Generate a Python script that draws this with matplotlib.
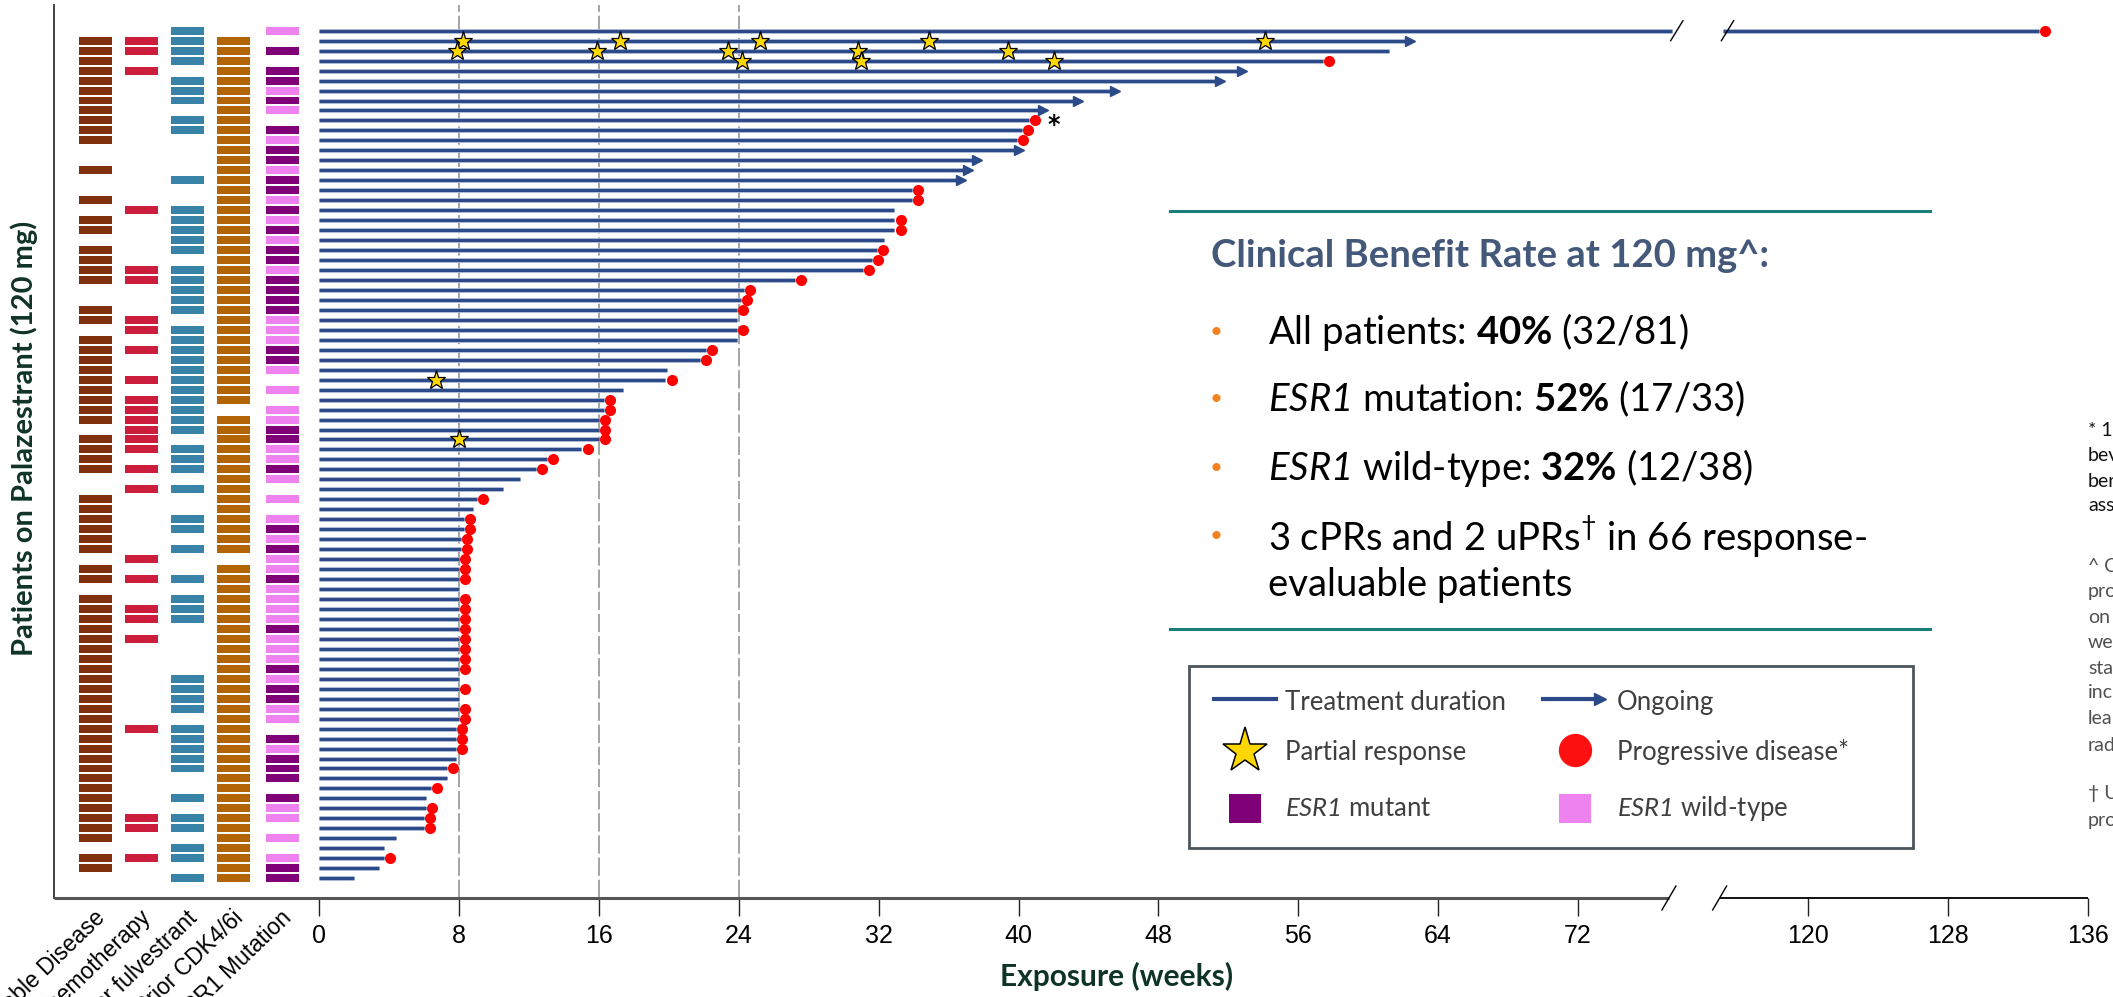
import numpy as np
import matplotlib
matplotlib.use('Agg')
import matplotlib.pyplot as plt
from matplotlib.collections import LineCollection

# Swimmer plot: one row per patient, top to bottom (weeks on palazestrant)
duration = [133.2, 62.4, 61.2, 57.4, 52.8, 51.5, 45.5, 43.4, 41.4, 40.6,
            40.2, 39.9, 40.0, 37.6, 37.1, 36.7, 33.9, 33.9, 32.9, 32.9,
            32.9, 32.3, 31.9, 31.6, 31.1, 27.2, 24.3, 24.1, 23.9, 23.9,
            23.9, 23.9, 22.1, 21.8, 19.9, 19.8, 17.4, 16.3, 16.3, 16.0,
            16.0, 16.0, 15.0, 13.0, 12.4, 11.5, 10.5, 9.0, 8.8, 8.3,
            8.3, 8.1, 8.1, 8.0, 8.0, 8.0, 8.0, 8.0, 8.0, 8.0,
            8.0, 8.0, 8.0, 8.0, 8.0, 8.0, 8.0, 8.0, 8.0, 8.0,
            7.8, 7.8, 7.8, 7.8, 7.3, 7.3, 6.4, 6.1, 6.1, 6.0,
            6.0, 4.4, 3.7, 3.7, 3.4, 2.0]

# 'PD' progressive disease, 'ON' ongoing, '' neither
end_event = ['PD', 'ON', '', 'PD', 'ON', 'ON', 'ON', 'ON', 'ON', 'PD',
             'PD', 'PD', 'ON', 'ON', 'ON', 'ON', 'PD', 'PD', '', 'PD',
             'PD', '', 'PD', 'PD', 'PD', 'PD', 'PD', 'PD', 'PD', '',
             'PD', '', 'PD', 'PD', '', 'PD', '', 'PD', 'PD', 'PD',
             'PD', 'PD', 'PD', 'PD', 'PD', '', '', 'PD', '', 'PD',
             'PD', 'PD', 'PD', 'PD', 'PD', 'PD', '', 'PD', 'PD', 'PD',
             'PD', 'PD', 'PD', 'PD', 'PD', '', 'PD', '', 'PD', 'PD',
             'PD', 'PD', 'PD', '', 'PD', '', 'PD', '', 'PD', 'PD',
             'PD', '', '', 'PD', '', '']

# partial responses (row number, week)
pr_rows = [2, 2, 2, 2, 2, 3, 3, 3, 3, 3, 4, 4, 4, 36, 42]
pr_weeks = [8.2, 17.2, 25.2, 34.9, 54.1, 7.9, 15.9, 23.4, 30.8, 39.4,
            24.2, 31.0, 42.0, 6.7, 8.0]
pd_star_row = 10  # progression marked with *

measurable = [0, 1, 1, 1, 1, 1, 1, 1, 1, 1, 1, 1, 0, 0, 1, 0, 0, 1, 0, 1,
              1, 0, 1, 1, 1, 1, 0, 0, 1, 1, 0, 1, 1, 1, 1, 1, 1, 1, 1, 1,
              0, 1, 1, 1, 1, 0, 0, 1, 1, 1, 1, 1, 1, 0, 1, 1, 0, 1, 1, 1,
              1, 1, 1, 1, 1, 1, 1, 1, 1, 1, 1, 1, 1, 1, 1, 1, 1, 1, 1, 1,
              1, 1, 0, 1, 1, 0]
chemo = [0, 1, 1, 0, 1, 0, 0, 0, 0, 0, 0, 0, 0, 0, 0, 0, 0, 0, 1, 0,
         0, 0, 0, 0, 1, 1, 0, 0, 0, 1, 1, 0, 1, 0, 0, 1, 0, 1, 1, 1,
         1, 1, 1, 0, 1, 0, 1, 0, 0, 0, 0, 0, 0, 1, 0, 1, 0, 0, 1, 1,
         0, 1, 0, 0, 0, 0, 0, 0, 0, 0, 1, 0, 0, 0, 0, 0, 0, 0, 0, 1,
         1, 0, 0, 1, 0, 0]
fulvestrant = [1, 1, 1, 1, 0, 1, 1, 1, 0, 1, 1, 0, 0, 0, 0, 1, 0, 0, 1, 1,
               1, 1, 1, 0, 1, 1, 1, 1, 1, 0, 1, 1, 1, 1, 1, 1, 1, 1, 1, 1,
               1, 0, 1, 1, 1, 0, 1, 0, 0, 1, 1, 0, 1, 0, 0, 1, 0, 1, 1, 1,
               0, 0, 0, 0, 0, 1, 1, 1, 1, 0, 1, 1, 1, 1, 1, 0, 0, 1, 0, 1,
               1, 0, 1, 1, 0, 1]
cdk46 = [0, 1, 1, 1, 1, 1, 1, 1, 1, 1, 1, 1, 1, 1, 1, 1, 1, 1, 1, 1,
         1, 1, 1, 1, 1, 1, 1, 1, 1, 1, 1, 1, 1, 1, 1, 1, 1, 1, 0, 1,
         1, 1, 1, 1, 1, 1, 1, 1, 1, 1, 1, 1, 1, 0, 1, 1, 1, 1, 1, 1,
         1, 1, 1, 1, 1, 1, 1, 1, 1, 1, 1, 1, 1, 1, 1, 1, 1, 1, 1, 1,
         1, 1, 1, 1, 1, 1]
# 'M' ESR1 mutant, 'W' wild-type, '' unknown
esr1 = ['W', '', 'M', '', 'M', 'M', 'W', 'M', 'W', '',
        'M', 'W', 'M', 'M', 'W', 'M', 'M', 'W', 'M', 'W',
        'M', 'W', 'M', 'M', 'W', 'M', 'M', 'M', 'M', 'W',
        'W', 'W', 'M', 'M', 'W', '', 'W', '', 'W', 'W',
        'M', 'M', 'W', 'W', 'M', 'W', '', 'W', '', 'W',
        'M', 'W', 'M', 'W', 'W', 'M', 'W', 'W', 'W', 'W',
        'M', 'W', 'W', 'W', 'M', 'W', 'M', 'M', 'W', 'W',
        '', 'M', 'W', 'M', 'M', 'M', '', 'M', 'W', 'W',
        '', 'W', '', 'W', 'M', 'M']

flag_names = ['Measurable Disease', 'Prior Chemotherapy', 'Prior fulvestrant',
              'Prior CDK4/6i', 'ESR1 Mutation']
tick_weeks = [0, 8, 16, 24, 32, 40, 48, 56, 64, 72, 120, 128, 136]

# ---- styling ----
ARIAL = ['Liberation Sans', 'DejaVu Sans']
plt.rcParams['font.family'] = ['Lato', 'DejaVu Sans']
plt.rcParams['mathtext.fontset'] = 'custom'
plt.rcParams['mathtext.rm'] = 'Lato'
plt.rcParams['mathtext.bf'] = 'Lato:bold'
# sf slot used for italic gene names so the digit stays italic too
plt.rcParams['mathtext.sf'] = 'Lato:italic'

BAR = '#2b4a87'
HALO = '#b3c0dc'
FLAG_COLORS = ['#80300c', '#cc1e3c', '#3a83a8', '#b36404']
MUT, WT = '#800078', '#ee82ee'
LABEL_C = '#0f3326'

# broken axis: weeks past the gap are shifted left
GAP_SHIFT = 34.83
BRK_L, BRK_R = 77.4, 80.3


def brk(w):
    w = np.asarray(w, dtype=float)
    return np.where(w > 77, w - GAP_SHIFT, w)


n = len(duration)
rows = np.arange(1, n + 1)
dur = np.array(duration)

W, H = 2113, 997
fig = plt.figure(figsize=(W / 100, H / 100), dpi=100)
ax = fig.add_axes([54 / W, 1 - 898 / H, (2088 - 54) / W, (898 - 5) / H])
ax.set_xlim(-15.17, 101.17)
ax.set_ylim(87.99, -1.58)

# guide lines at 8, 16, 24 weeks
for g in [8, 16, 24]:
    ax.axvline(g, color='#8c8c8c', lw=1.1, dashes=(12, 2.5), zorder=1)

# treatment bars (broken when beyond the axis gap)
segs = []
for r, d in zip(rows, dur):
    if d > 77:
        segs.append([(0, r), (BRK_L, r)])
        segs.append([(BRK_R, r), (float(brk(d)), r)])
    else:
        segs.append([(0, r), (d, r)])
ax.add_collection(LineCollection(segs, colors=HALO, linewidths=3.4, zorder=2))
ax.add_collection(LineCollection(segs, colors=BAR, linewidths=2.3, zorder=3))

ev = np.array(end_event)
pd_mask = ev == 'PD'
on_mask = ev == 'ON'
ax.plot(brk(dur[pd_mask]) + 0.35, rows[pd_mask], 'o', color='#ff0000',
        ms=8, mec='none', zorder=4)
ax.plot(brk(dur[on_mask]), rows[on_mask], '>', color=BAR, ms=6.5,
        mec=BAR, zorder=4)
ax.plot(brk(pr_weeks), pr_rows, '*', ms=14, mfc='#ffd700', mec='black',
        mew=0.9, zorder=5)
ax.text(brk(dur[pd_star_row - 1]) + 1.4, pd_star_row + 0.45, '*',
        fontsize=17, fontweight='bold', ha='center', va='center',
        family=['DejaVu Sans'], zorder=5)

# slashes on the broken top bar
for xb in [BRK_L + 0.25, BRK_R + 0.25]:
    ax.plot([xb - 0.35, xb + 0.35], [2.0, 0.0], color='black', lw=1, zorder=6)

# patient characteristic columns
flag_w = 33 / 17.48
col_left = [-13.74, -11.11, -8.48, -5.85, -3.05]
for vals, x0, c in zip([measurable, chemo, fulvestrant, cdk46], col_left, FLAG_COLORS):
    v = np.array(vals, dtype=bool)
    ax.barh(rows[v], flag_w, left=x0, height=0.8, color=c, lw=0)
es = np.array(esr1)
ax.barh(rows[es == 'M'], flag_w, left=col_left[4], height=0.8, color=MUT, lw=0)
ax.barh(rows[es == 'W'], flag_w, left=col_left[4], height=0.8, color=WT, lw=0)

for name, x0 in zip(flag_names, col_left):
    ax.text(x0 + flag_w / 2 - 0.1, 88.8, name, rotation=44, rotation_mode='anchor',
            ha='right', va='top', fontsize=16.5, family=ARIAL, clip_on=False)

# axes frame with broken bottom axis
for s in ['top', 'right', 'bottom']:
    ax.spines[s].set_visible(False)
ax.spines['left'].set_color('#333333')
ax.spines['left'].set_linewidth(1.3)
yb = 87.99
ax.plot([-15.17, BRK_L - 0.2], [yb, yb], color='#555555', lw=2.2,
        clip_on=False, solid_capstyle='butt')
ax.plot([BRK_R - 0.2, 101.17], [yb, yb], color='#111111', lw=1.4,
        clip_on=False, solid_capstyle='butt')
for xb in [BRK_L - 0.2, BRK_R - 0.2]:
    ax.plot([xb - 0.4, xb + 0.4], [yb + 1.2, yb - 1.2], color='black', lw=1,
            clip_on=False)

ax.set_yticks([])
ax.set_xticks(brk(tick_weeks))
ax.set_xticklabels([str(t) for t in tick_weeks], family=ARIAL, fontsize=18)
ax.tick_params(axis='x', length=13, width=1, color='#222222', pad=6)

fig.text(24.5 / W, 1 - 438 / H, 'Patients on Palazestrant (120 mg)', rotation=90,
         ha='center', va='center', fontsize=21, fontweight='bold', color=LABEL_C)
fig.text(1117 / W, 1 - 976 / H, 'Exposure (weeks)', ha='center', va='center',
         fontsize=21.5, fontweight='bold', color=LABEL_C)

# ---- overlay in pixel coordinates for the summary panel and key ----
ov = fig.add_axes([0, 0, 1, 1], zorder=10)
ov.set_xlim(0, W)
ov.set_ylim(H, 0)
ov.axis('off')
ov.patch.set_alpha(0)

for yl in [211.5, 628.5]:
    ov.plot([1170, 1930], [yl, yl], color='#1b7f79', lw=2.2)
ov.text(1211, 256, 'Clinical Benefit Rate at 120 mg^:', fontsize=27.5,
        fontweight='bold', color='#44587a', va='center')
bullets = [(332, r'All patients: $\mathbf{40\%}$ (32/81)'),
           (399, r'$\mathsf{ESR1}$ mutation: $\mathbf{52\%}$ (17/33)'),
           (468, r'$\mathsf{ESR1}$ wild-type: $\mathbf{32\%}$ (12/38)'),
           (535.5, r'3 cPRs and 2 uPRs$^{\dagger}$ in 66 response-')]
for yt, txt in bullets:
    ov.text(1216, yt, '\u2022', fontsize=16, color='#f58220', ha='center', va='center')
    ov.text(1268, yt, txt, fontsize=27.5, color='black', va='center')
ov.text(1268, 585, 'evaluable patients', fontsize=27.5, color='black', va='center')

# key box
ov.add_patch(plt.Rectangle((1189, 666), 724, 182, fill=False, ec='#4a555c', lw=2))
KEY_C = '#3f3f3f'
ov.plot([1214, 1276], [699, 699], color=BAR, lw=3)
ov.plot([1543, 1598], [699, 699], color=BAR, lw=3)
ov.plot([1600], [699], '>', color=BAR, ms=8)
ov.plot([1245], [751], '*', ms=34, mfc='#ffd700', mec='black', mew=1.1)
ov.plot([1575], [750], 'o', ms=24, color='#ff1010', mec='none')
ov.add_patch(plt.Rectangle((1229, 794), 32, 29, color=MUT, lw=0))
ov.add_patch(plt.Rectangle((1559, 794), 32, 29, color=WT, lw=0))
for xt, yt, txt in [(1285, 702, 'Treatment duration'), (1617, 702, 'Ongoing'),
                    (1285, 752, 'Partial response'), (1617, 752, 'Progressive disease*'),
                    (1285, 808, r'$\mathsf{ESR1}$ mutant'),
                    (1617, 808, r'$\mathsf{ESR1}$ wild-type')]:
    ov.text(xt, yt, txt, fontsize=18.5, color=KEY_C, va='center')

# footnotes cut by the slide edge
notes = [(430, '* 1', '#111111'), (455, 'bev', '#111111'), (481, 'ber', '#111111'),
         (505, 'ass', '#111111'), (566, '^ C', '#505050'), (591, 'pro', '#505050'),
         (617, 'on', '#505050'), (642, 'we', '#505050'), (668, 'sta', '#505050'),
         (692, 'inc', '#505050'), (718, 'lea', '#505050'), (745, 'rad', '#505050'),
         (793, '\u2020 U', '#505050'), (820, 'pro', '#505050')]
for yt, txt, c in notes:
    ov.text(2088, yt, txt, fontsize=14, color=c, va='center')

fig.savefig('out.png', dpi=100)
